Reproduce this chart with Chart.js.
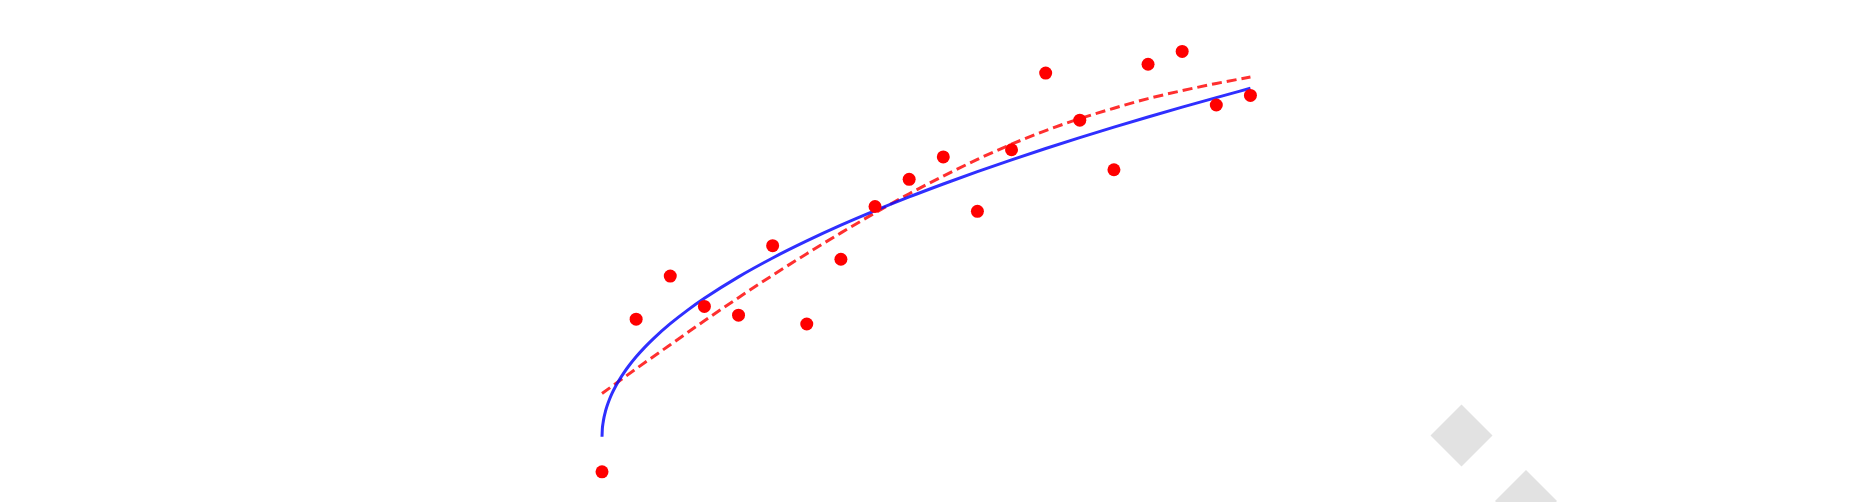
<!DOCTYPE html>
<html>
<head>
<meta charset="utf-8">
<title>Fit comparison</title>
<script src="https://cdn.jsdelivr.net/npm/chart.js@4/dist/chart.umd.min.js"></script>
<style>
  html, body { margin: 0; padding: 0; background: #ffffff; }
  #wrap { width: 1862px; height: 502px; }
</style>
</head>
<body>
<div id="wrap"><canvas id="fitChart" width="1862" height="502"></canvas></div>
<script>
// measured points
const xValues = [0, 1, 2, 3, 4, 5, 6, 7, 8, 9, 10, 11, 12, 13, 14, 15, 16, 17, 18, 19];
const yValues = [-0.44, 1.47, 2.01, 1.63, 1.52, 2.39, 1.41, 2.22, 2.88, 3.22,
                 3.50, 2.82, 3.59, 4.55, 3.96, 3.34, 4.66, 4.82, 4.15, 4.27];

// solid blue fit
const fitX = [0, 0.01, 0.03, 0.06, 0.1, 0.15, 0.22, 0.3, 0.4, 0.5, 0.65, 0.8, 1, 1.25,
              1.5, 2, 2.5, 3, 4, 5, 6, 7, 8, 9, 10, 11, 12, 13, 14, 15, 16, 17, 18, 19];
const fitY = [0, 0.10, 0.17, 0.245, 0.316, 0.387, 0.469, 0.548, 0.632, 0.707, 0.806,
              0.894, 1.00, 1.118, 1.225, 1.414, 1.581, 1.732, 2.00, 2.236, 2.449,
              2.646, 2.828, 3.00, 3.162, 3.317, 3.464, 3.606, 3.742, 3.873, 4.00,
              4.123, 4.243, 4.359];

// dashed red fit
const dashX = [0, 1, 2, 3, 4, 5, 6, 7, 8, 9, 10, 11, 12, 13, 14, 15, 16, 17, 18, 19];
const dashY = [0.54, 0.85, 1.15, 1.45, 1.74, 2.02, 2.29, 2.55, 2.80, 3.04,
               3.26, 3.47, 3.66, 3.83, 3.98, 4.11, 4.23, 4.33, 4.42, 4.50];

function toPoints(xs, ys) {
    return xs.map((x, i) => ({ x: x, y: ys[i] }));
}

// grey diamonds in the lower right corner
const diamonds = {
    id: 'diamonds',
    beforeDraw(chart) {
        const ctx = chart.ctx;
        ctx.save();
        ctx.fillStyle = '#e2e2e2';
        [[1461.5, 435.5], [1526, 501]].forEach(c => {
            ctx.beginPath();
            ctx.moveTo(c[0], c[1] - 31);
            ctx.lineTo(c[0] + 31, c[1]);
            ctx.lineTo(c[0], c[1] + 31);
            ctx.lineTo(c[0] - 31, c[1]);
            ctx.closePath();
            ctx.fill();
        });
        ctx.restore();
    }
};

new Chart(document.getElementById('fitChart').getContext('2d'), {
    type: 'scatter',
    data: {
        datasets: [{
            label: 'data',
            data: toPoints(xValues, yValues),
            backgroundColor: '#ff0000',
            borderWidth: 0,
            pointRadius: 6.5,
            order: 0
        }, {
            label: 'fit',
            data: toPoints(fitX, fitY),
            showLine: true,
            borderColor: 'rgba(10, 10, 255, 0.85)',
            borderWidth: 3,
            pointRadius: 0,
            cubicInterpolationMode: 'monotone',
            order: 1
        }, {
            label: 'fit 2',
            data: toPoints(dashX, dashY),
            showLine: true,
            borderColor: 'rgba(255, 10, 10, 0.85)',
            borderWidth: 3,
            borderDash: [10, 5],
            pointRadius: 0,
            cubicInterpolationMode: 'monotone',
            order: 2
        }]
    },
    options: {
        responsive: false,
        maintainAspectRatio: false,
        animation: false,
        devicePixelRatio: 1,
        layout: { padding: 0, autoPadding: false },
        plugins: {
            legend: { display: false },
            tooltip: { enabled: false }
        },
        scales: {
            x: { type: 'linear', display: false, min: -17.64, max: 36.92 },
            y: { type: 'linear', display: false, min: -0.817, max: 5.464 }
        }
    },
    plugins: [diamonds]
});
</script>
</body>
</html>
